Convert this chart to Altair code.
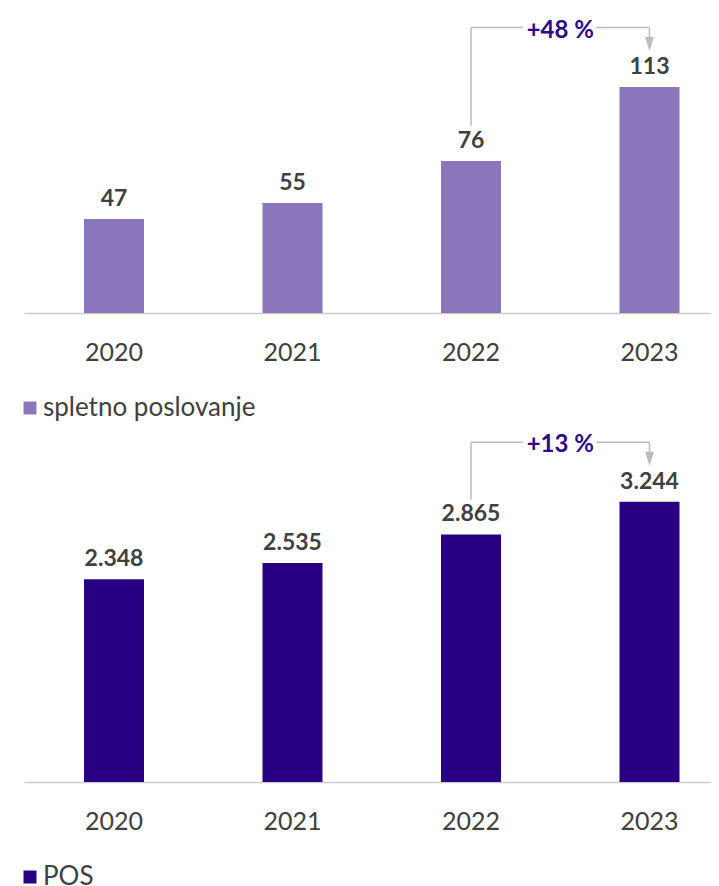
import altair as alt
import pandas as pd

years = ["2020", "2021", "2022", "2023"]
online_values = [47, 55, 76, 113]
pos_values = [2348, 2535, 2865, 3244]
series_names = ["spletno poslovanje", "POS"]
growth_labels = ["+48 %", "+13 %"]
bar_colors = ["#8A76BB", "#2A0082"]

FONT = "Lato"
TEXT = "#404040"
ACCENT = "#2E0A8A"
GRAY = "#BDBDBD"
W = 687
STEP = 178.5
BAR = 60
PIN = 1 - BAR / STEP
POUT = (W / STEP - (4 - PIN)) / 2
ALIGN = 60.0 / (W - STEP * (4 - PIN))
LEG_X = -7


def panel(values, name, color, growth, height, px_per_unit):
    ymax = height / px_per_unit
    df = pd.DataFrame({
        "year": years,
        "value": values,
        "series": name,
        "label": [f"{v:,}".replace(",", ".") for v in values],
    })

    def up(v, px):
        return v + px / px_per_unit

    ann = pd.DataFrame({
        "from": [years[2]], "to": [years[3]],
        "start": [up(values[2], 35)],
        "line": [up(values[3], 59.5)],
        "tip": [up(values[3], 43)],
        "text": [growth],
    })
    xs = alt.Scale(domain=years, paddingInner=PIN, paddingOuter=POUT, align=ALIGN)
    ys = alt.Scale(domain=[0, ymax], nice=False, zero=True)
    x = alt.X("year:N", scale=xs, title=None, axis=alt.Axis(
        title=None, labelAngle=0, ticks=False, labelPadding=27, labelFontSize=25,
        labelFont=FONT, labelColor=TEXT, domainColor="#CCCCCC", domainWidth=1.5,
        grid=False))
    y = alt.Y("value:Q", scale=ys, axis=None)
    base = alt.Chart(df)
    bars = base.mark_bar().encode(
        x=x, y=y,
        color=alt.Color("series:N", scale=alt.Scale(domain=[name], range=[color]),
                        legend=alt.Legend(
                            orient="none", legendX=LEG_X, legendY=height + 82, title=None,
                            symbolType="square", symbolSize=169, symbolStrokeWidth=0,
                            labelFontSize=26, labelFont=FONT, labelColor=TEXT,
                            labelOffset=0, labelLimit=0, padding=0)),
    )
    vlabels = base.mark_text(dy=-13, baseline="alphabetic", font=FONT, fontSize=23,
                             fontWeight="bold", color=TEXT).encode(
        x=alt.X("year:N", scale=xs, title=None), y=y, text="label:N")
    a = alt.Chart(ann)
    ax_from = alt.X("from:N", scale=xs, title=None)
    ax_to = alt.X("to:N", scale=xs, title=None)
    vline = a.mark_rule(color=GRAY, strokeWidth=1.5).encode(
        x=ax_from, y=alt.Y("start:Q", scale=ys, axis=None), y2="line:Q")
    hline = a.mark_rule(color=GRAY, strokeWidth=1.5).encode(
        x=ax_from, x2="to:N", y=alt.Y("line:Q", scale=ys, axis=None))
    dline = a.mark_rule(color=GRAY, strokeWidth=1.5).encode(
        x=ax_to, y=alt.Y("line:Q", scale=ys, axis=None), y2="tip:Q")
    head = a.mark_point(shape="M -0.64 -1 L 0.64 -1 L 0 1 Z", size=196, filled=True,
                        color=GRAY, opacity=1).encode(
        x=ax_to, y=alt.Y("tip:Q", scale=ys, axis=None))
    knock = a.mark_text(dx=STEP / 2, dy=10, baseline="alphabetic", font=FONT,
                        fontSize=24, fontWeight="bold", fill="white", stroke="white",
                        strokeWidth=10).encode(
        x=ax_from, y=alt.Y("line:Q", scale=ys, axis=None), text="text:N")
    gtext = a.mark_text(dx=STEP / 2, dy=10, baseline="alphabetic", font=FONT,
                        fontSize=24, fontWeight="bold", color=ACCENT).encode(
        x=ax_from, y=alt.Y("line:Q", scale=ys, axis=None), text="text:N")
    return alt.layer(bars, vlabels, vline, hline, dline, head, knock, gtext).properties(
        width=W, height=height)


top = panel(online_values, series_names[0], bar_colors[0], growth_labels[0], 300, 2.0)
bottom = panel(pos_values, series_names[1], bar_colors[1], growth_labels[1], 351, 0.0864)

chart = alt.vconcat(top, bottom, spacing=10).resolve_scale(
    color="independent", x="independent", y="independent"
).properties(
    padding={"left": 16 + LEG_X, "top": 5, "right": 0, "bottom": 0}
).configure_view(stroke=None)

chart.save("out.html", embed_options={"renderer": "svg", "actions": False})
